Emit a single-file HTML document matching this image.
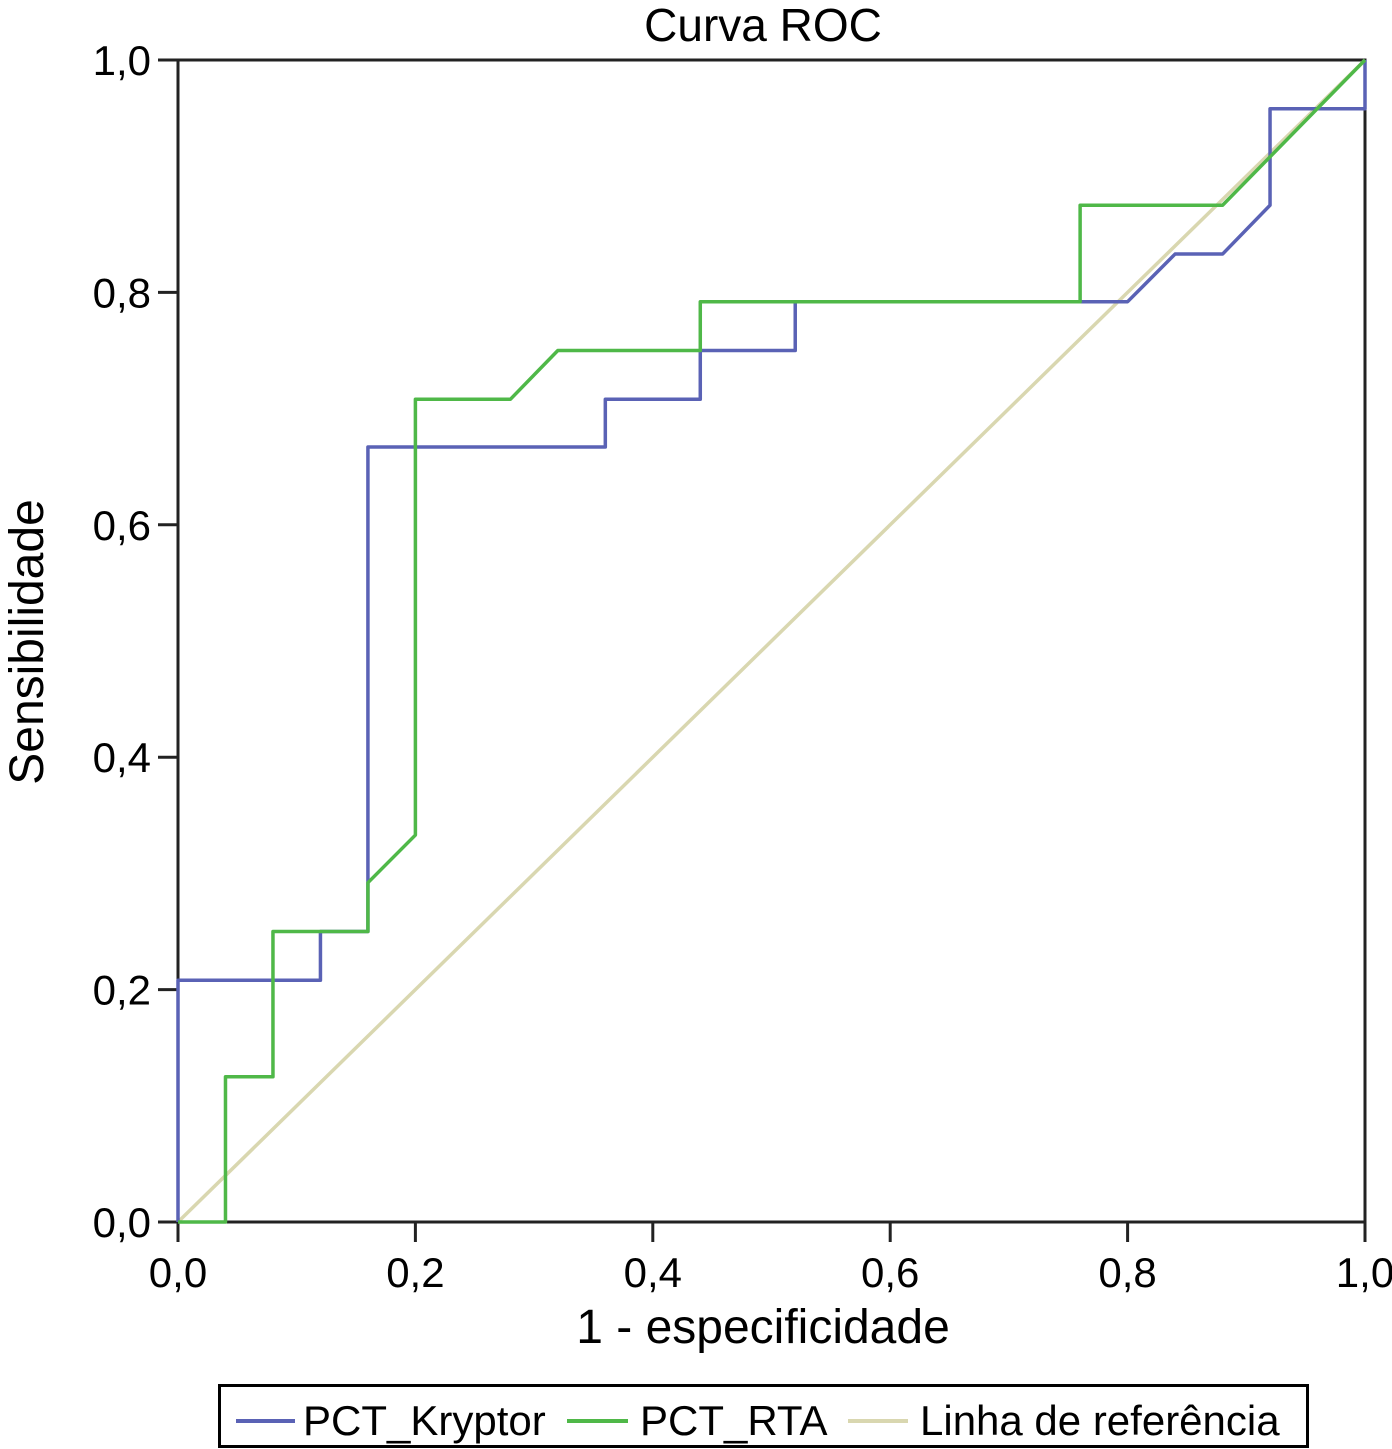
<!DOCTYPE html>
<html><head><meta charset="utf-8"><style>
html,body{margin:0;padding:0;background:#fff;}
svg{display:block;font-family:"Liberation Sans",sans-serif;}
</style></head><body>
<svg id="chart" width="1392" height="1449" viewBox="0 0 1392 1449">
<text x="763" y="41" font-size="46" text-anchor="middle">Curva ROC</text>
<g id="axes"></g>
<g id="series"></g>
<text x="763" y="1343" font-size="48" text-anchor="middle">1 - especificidade</text>
<text transform="translate(43,642) rotate(-90)" font-size="48" text-anchor="middle">Sensibilidade</text>
<g>
<rect x="219.5" y="1385.5" width="1088" height="61" fill="#fff" stroke="#000" stroke-width="3"/>
<g><line x1="236" y1="1421" x2="295" y2="1421" stroke="#5a62b5" stroke-width="4"/><text x="303" y="1435" font-size="42">PCT_Kryptor</text></g>
<g><line x1="567" y1="1421" x2="628" y2="1421" stroke="#4fb848" stroke-width="4"/><text x="640" y="1435" font-size="42">PCT_RTA</text></g>
<g><line x1="848" y1="1421" x2="908" y2="1421" stroke="#d9d7b0" stroke-width="4"/><text x="920" y="1435" font-size="42">Linha de referência</text></g>
</g>
</svg>
<script>
const xTicks=[0,0.2,0.4,0.6,0.8,1.0];
const yTicks=[0,0.2,0.4,0.6,0.8,1.0];
const tickLabels=["0,0","0,2","0,4","0,6","0,8","1,0"];
const kryptorX=[0,0,0.12,0.12,0.16,0.16,0.36,0.36,0.44,0.44,0.52,0.52,0.80,0.84,0.88,0.92,0.92,1.0,1.0];
const kryptorY=[0,0.208,0.208,0.25,0.25,0.667,0.667,0.708,0.708,0.75,0.75,0.792,0.792,0.833,0.833,0.875,0.958,0.958,1.0];
const rtaX=[0,0.04,0.04,0.08,0.08,0.16,0.16,0.20,0.20,0.28,0.32,0.44,0.44,0.76,0.76,0.88,1.0];
const rtaY=[0,0,0.125,0.125,0.25,0.25,0.292,0.333,0.708,0.708,0.75,0.75,0.792,0.792,0.875,0.875,1.0];
const refX=[0,1];
const refY=[0,1];
const X0=178,X1=1365,Y0=1222,Y1=60;
const sx=v=>X0+(X1-X0)*v, sy=v=>Y0-(Y0-Y1)*v;
const NS="http://www.w3.org/2000/svg";
const axes=document.getElementById('axes'), series=document.getElementById('series');
function mk(tag,attrs,parent){const e=document.createElementNS(NS,tag);for(const k in attrs)e.setAttribute(k,attrs[k]);parent.appendChild(e);return e;}
let f=mk('rect',{x:X0,y:Y1,width:X1-X0,height:Y0-Y1,fill:'none',stroke:'#222','stroke-width':3},axes);


xTicks.forEach((v,i)=>{
 const t=mk('line',{x1:sx(v),x2:sx(v),y1:Y0,y2:Y0+20,stroke:'#222','stroke-width':3},axes);
 
 
 const l=mk('text',{x:sx(v),y:Y0+65,'font-size':42,'text-anchor':'middle'},axes);l.textContent=tickLabels[i];
 
 
});
yTicks.forEach((v,i)=>{
 const t=mk('line',{x1:X0-20,x2:X0,y1:sy(v),y2:sy(v),stroke:'#222','stroke-width':3},axes);
 
 
 const l=mk('text',{x:X0-27,y:sy(v)+15,'font-size':42,'text-anchor':'end'},axes);l.textContent=tickLabels[i];
 
 
});
function line(xs,ys,color,name){
 const p=mk('polyline',{points:xs.map((x,i)=>sx(x)+','+sy(ys[i])).join(' '),fill:'none',stroke:color,'stroke-width':3.5,'stroke-linejoin':'round'},series);
 
 
}
line(refX,refY,'#d9d7b0','reference-line');
line(kryptorX,kryptorY,'#5a62b5','kryptor-line');
line(rtaX,rtaY,'#4fb848','rta-line');
</script>
</body></html>
